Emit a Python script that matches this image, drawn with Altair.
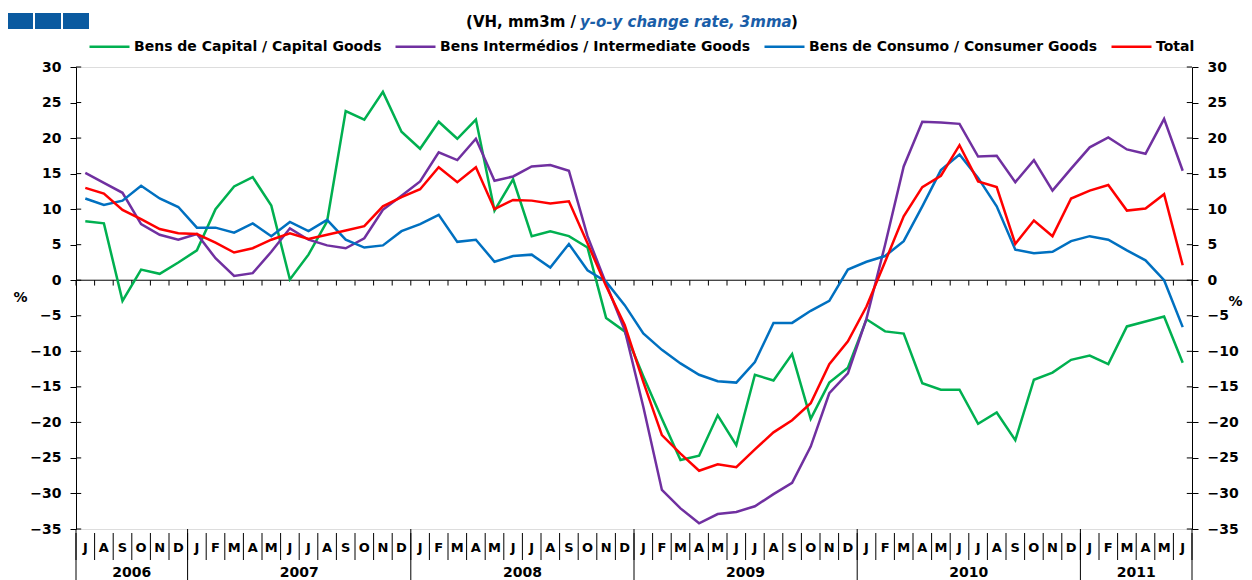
import altair as alt
import pandas as pd

# ---------------- data ----------------
month_letters = ["J", "A", "S", "O", "N", "D"] + \
    ["J", "F", "M", "A", "M", "J", "J", "A", "S", "O", "N", "D"] * 4 + \
    ["J", "F", "M", "A", "M", "J"]
years = ["2006", "2007", "2008", "2009", "2010", "2011"]
months_per_year = [6, 12, 12, 12, 12, 6]

capital = [8.3, 8.0, -2.9, 1.5, 0.9, 2.5, 4.2, 10.0, 13.2, 14.5, 10.5, 0.1,
           3.6, 8.3, 23.8, 22.6, 26.5, 20.9, 18.5, 22.3, 19.9, 22.6, 9.8, 14.2,
           6.2, 6.9, 6.2, 4.6, -5.3, -7.2, -13.5, -19.5, -25.3, -24.7, -19.0, -23.2,
           -13.3, -14.1, -10.4, -19.5, -14.4, -12.3, -5.5, -7.2, -7.5, -14.5, -15.4, -15.4,
           -20.2, -18.6, -22.5, -14.0, -13.0, -11.2, -10.6, -11.8, -6.5, -5.8, -5.1, -11.6]
intermediate = [15.1, 13.7, 12.3, 7.9, 6.4, 5.7, 6.5, 3.1, 0.6, 1.0, 4.0, 7.3,
                5.7, 4.9, 4.5, 5.9, 9.9, 11.9, 13.9, 18.0, 16.9, 19.9, 14.0, 14.6,
                16.0, 16.2, 15.4, 6.2, -0.5, -7.0, -17.8, -29.5, -32.1, -34.2, -32.9, -32.6,
                -31.8, -30.1, -28.5, -23.4, -15.9, -13.1, -5.4, 5.0, 16.0, 22.3, 22.2, 22.0,
                17.4, 17.5, 13.8, 16.9, 12.6, 15.7, 18.7, 20.1, 18.4, 17.8, 22.7, 15.4]
consumer = [11.5, 10.6, 11.2, 13.3, 11.5, 10.3, 7.4, 7.4, 6.7, 8.0, 6.2, 8.2,
            6.9, 8.5, 5.7, 4.6, 4.9, 6.9, 7.9, 9.2, 5.4, 5.7, 2.6, 3.4,
            3.6, 1.8, 5.1, 1.4, -0.2, -3.5, -7.5, -9.8, -11.7, -13.3, -14.2, -14.4,
            -11.5, -6.0, -6.0, -4.3, -2.9, 1.5, 2.6, 3.4, 5.5, 10.4, 15.5, 17.7,
            14.4, 10.4, 4.3, 3.8, 4.0, 5.5, 6.2, 5.7, 4.2, 2.8, 0.0, -6.6]
total = [13.0, 12.2, 9.9, 8.6, 7.2, 6.6, 6.5, 5.3, 3.9, 4.5, 5.7, 6.6,
         5.8, 6.4, 7.0, 7.6, 10.4, 11.7, 12.8, 15.9, 13.8, 15.9, 10.0, 11.3,
         11.2, 10.8, 11.1, 5.2, -0.8, -6.3, -14.3, -21.8, -24.4, -26.8, -25.9, -26.3,
         -23.8, -21.4, -19.7, -17.3, -11.8, -8.6, -3.7, 2.6, 9.0, 13.1, 14.7, 19.0,
         13.9, 13.1, 5.1, 8.4, 6.2, 11.5, 12.6, 13.4, 9.8, 10.1, 12.1, 2.1]

series_names = ["Bens de Capital / Capital Goods",
                "Bens Intermédios / Intermediate Goods",
                "Bens de Consumo / Consumer Goods",
                "Total"]
series_colors = ["#00B050", "#7030A0", "#0070C0", "#FF0000"]
y_ticks = list(range(-35, 31, 5))

# ---------------- tables ----------------
n = len(month_letters)
rows = []
for name, vals in zip(series_names, [capital, intermediate, consumer, total]):
    for i, v in enumerate(vals):
        rows.append({"idx": i, "series": name, "value": v})
df = pd.DataFrame(rows)

letters_df = pd.DataFrame({"idx": list(range(n)), "letter": month_letters})
bounds_df = pd.DataFrame({"b": [i - 0.5 for i in range(n + 1)]})
starts = [sum(months_per_year[:k]) for k in range(len(years))]
year_df = pd.DataFrame({
    "year": years,
    "center": [s + m / 2 - 0.5 for s, m in zip(starts, months_per_year)],
})
year_bounds_df = pd.DataFrame({"b": [s - 0.5 for s in starts] + [n - 0.5]})
ticks_df = pd.DataFrame({"v": y_ticks})
one = pd.DataFrame({"a": [0]})
logo_df = pd.DataFrame({"k": [0, 1, 2]})

# ---------------- layout / style ----------------
W, H = 1116, 462
FONT = "DejaVu Sans"
xs = alt.Scale(domain=[-0.5, n - 0.5], nice=False, zero=False)
ys = alt.Scale(domain=[-35, 30], nice=False, zero=False)


def yaxis(orient, tx, ty):
    return alt.Axis(orient=orient, values=y_ticks, tickSize=6, tickColor="black",
                    domainColor="black", labelFont=FONT, labelFontSize=14,
                    labelFontWeight="bold", labelColor="black", labelPadding=9,
                    grid=False, title="%", titleAngle=0, titleX=tx, titleY=ty,
                    titleAlign="center", titleBaseline="middle", titleFont=FONT,
                    titleFontSize=14, titleFontWeight="bold", titleColor="black")


legend = alt.Legend(orient="none", legendX=12, legendY=-42, direction="horizontal",
                    title=None, symbolType="stroke", symbolSize=1600,
                    symbolStrokeWidth=2.5, labelFont=FONT, labelFontSize=14,
                    labelFontWeight="bold", labelColor="black", labelOffset=3,
                    labelLimit=0, columnPadding=8, padding=0)

lines = alt.Chart(df).mark_line(strokeWidth=2.5).encode(
    x=alt.X("idx:Q", scale=xs, axis=None),
    y=alt.Y("value:Q", scale=ys, axis=yaxis("left", -56, 230)),
    color=alt.Color("series:N", scale=alt.Scale(domain=series_names, range=series_colors),
                    legend=legend, sort=series_names),
)
right_axis = alt.Chart(df).mark_line(opacity=0).encode(
    x=alt.X("idx:Q", scale=xs, axis=None),
    y=alt.Y("value:Q", scale=ys, axis=yaxis("right", 43, 234)),
    detail="series:N",
)
zero_line = alt.Chart(one).mark_rule(color="black", strokeWidth=1).encode(
    y=alt.YDatum(0, axis=None))
zero_ticks = alt.Chart(bounds_df).mark_rule(color="black", strokeWidth=1).encode(
    x=alt.X("b:Q", scale=xs, axis=None), y=alt.YDatum(0, axis=None), y2=alt.Y2Datum(-0.75))
left_inner = alt.Chart(ticks_df).mark_rule(color="black").encode(
    x=alt.XDatum(-0.5, axis=None), x2=alt.X2Datum(-0.22),
    y=alt.Y("v:Q", scale=ys, axis=None))
right_inner = alt.Chart(ticks_df).mark_rule(color="black").encode(
    x=alt.XDatum(n - 0.78, axis=None), x2=alt.X2Datum(n - 0.5),
    y=alt.Y("v:Q", scale=ys, axis=None))
month_seps = alt.Chart(bounds_df).mark_rule(color="black", strokeWidth=1).encode(
    x=alt.X("b:Q", scale=xs, axis=None), y=alt.value(H + 4), y2=alt.value(H + 31))
year_seps = alt.Chart(year_bounds_df).mark_rule(color="black", strokeWidth=1).encode(
    x=alt.X("b:Q", scale=xs, axis=None), y=alt.value(H), y2=alt.value(H + 60))
month_text = alt.Chart(letters_df).mark_text(
    font=FONT, fontSize=13, fontWeight="bold", color="black", baseline="middle").encode(
    x=alt.X("idx:Q", scale=xs, axis=None), y=alt.value(H + 19), text="letter:N")
year_text = alt.Chart(year_df).mark_text(
    font=FONT, fontSize=14, fontWeight="bold", color="black", baseline="middle").encode(
    x=alt.X("center:Q", scale=xs, axis=None), y=alt.value(H + 44), text="year:N")

sub1 = alt.Chart(one).mark_text(font=FONT, fontSize=15, fontWeight="bold", color="black",
                                align="right", baseline="middle", text="(VH, mm3m /").encode(
    x=alt.value(500), y=alt.value(-45))
sub2 = alt.Chart(one).mark_text(font=FONT, fontSize=15, fontWeight="bold", fontStyle="italic",
                                color="#1A5EA8", align="left", baseline="middle",
                                text="y-o-y change rate, 3mma").encode(
    x=alt.value(504), y=alt.value(-45))
sub3 = alt.Chart(one).mark_text(font=FONT, fontSize=15, fontWeight="bold", color="black",
                                align="left", baseline="middle", text=")").encode(
    x=alt.value(715), y=alt.value(-45))
logo = alt.Chart(logo_df).mark_rect(color="#0A5AA0").encode(
    x=alt.X("lx:Q", scale=None), x2="lx2:Q",
    y=alt.value(-54), y2=alt.value(-38),
).transform_calculate(lx="-69 + datum.k * 28", lx2="-69 + datum.k * 28 + 26")

chart = alt.layer(
    logo, sub1, sub2, sub3,
    zero_line, zero_ticks, left_inner, right_inner,
    month_seps, year_seps, month_text, year_text,
    right_axis, lines,
).resolve_axis(y="independent").properties(
    width=W, height=H,
    autosize=alt.AutoSizeParams(type="none"),
    padding={"left": 68, "top": 59, "right": 52, "bottom": 52},
).configure_view(stroke=None).configure(background="white")

chart.save("out.html", embed_options={"renderer": "svg", "actions": False})
